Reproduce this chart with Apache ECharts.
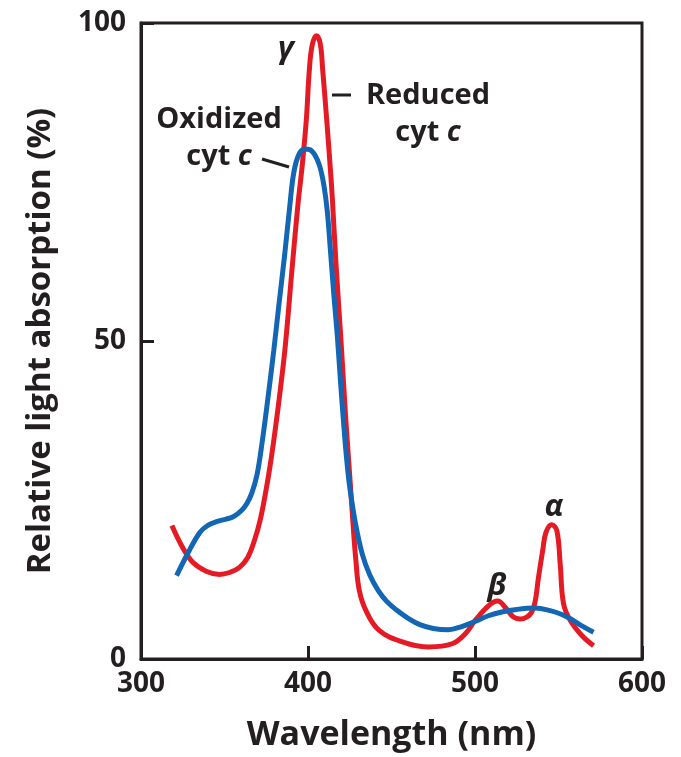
<!DOCTYPE html>
<html>
<head>
<meta charset="utf-8">
<script src="https://cdn.jsdelivr.net/npm/echarts@6/dist/echarts.min.js"></script>
<style>
  html, body { margin: 0; padding: 0; background: #fff; }
  #chart { width: 681px; height: 757px; }
</style>
</head>
<body>
<div id="chart"></div>
<script>
// absorption spectra of cytochrome c
var redWave = [318.5, 325, 331, 339, 347, 353, 359, 364, 368, 371.5, 374.5, 377.5, 380.5, 383.5, 386.5, 390.5, 394, 396.5, 399, 400.8, 402.5, 405, 407.3, 408.8, 411.2, 413.4, 414.6, 416.8, 419.7, 422.7, 425.2, 426.9, 428.7, 430.7, 434.7, 442.6, 456.5, 472.4, 486.3, 494.3, 500.2, 508.2, 513.5, 518.5, 523, 527, 531, 534, 536, 538, 540.5, 542.5, 546, 549, 551, 553, 557, 564, 571];
var redAbs  = [21.0, 17.5, 15.2, 13.8, 13.3, 13.6, 14.4, 16.0, 18.7, 22.0, 26.0, 30.7, 36.3, 42.5, 49.5, 61.5, 71.5, 77.5, 84.8, 92.6, 96.5, 98, 96.8, 92.6, 84.8, 77, 72.3, 62, 50.3, 37.4, 28.0, 21.5, 15.4, 10.8, 7.6, 4.5, 2.7, 1.9, 2.4, 4.0, 6.1, 8.4, 9.1, 8.0, 6.6, 6.3, 6.6, 7.4, 9.0, 12.8, 17.0, 19.9, 21.1, 20.2, 15.0, 8.7, 6.1, 3.7, 2.1];

var blueWave = [321.3, 328.2, 335.2, 340, 345.2, 351, 355.5, 360, 363.5, 366.5, 369.5, 372.5, 376, 379.5, 382.5, 386, 389, 391.5, 394.5, 398, 401, 404, 407, 409.5, 411.5, 413.5, 415.5, 417.7, 419.5, 421.5, 423.3, 425, 428.5, 432.5, 437, 442, 447, 453, 460, 467, 475, 484, 492, 500, 508, 516, 525, 536, 545, 552, 558, 564, 571];
var blueAbs  = [13.1, 16.7, 19.9, 21.0, 21.6, 22.0, 22.4, 23.3, 24.5, 26.2, 29.0, 34.0, 41.0, 48.5, 55.5, 63.5, 71.0, 76.5, 79.3, 80.2, 80.1, 79.3, 77.5, 74.5, 70.5, 64.0, 57.2, 50.3, 43.5, 36.5, 31.0, 27.0, 21.2, 16.5, 13.2, 10.8, 9.1, 7.7, 6.4, 5.4, 4.8, 4.6, 5.1, 5.9, 6.8, 7.4, 7.8, 8.0, 7.6, 7.0, 6.2, 5.2, 4.2];

var xTicks = [300, 400, 500, 600];
var yTicks = [0, 50, 100];

var FONT = '"Open Sans", "Noto Sans", sans-serif';
var INK = '#231f20';
var RED = '#e41b24';
var BLUE = '#1366b3';

function pairs(xs, ys) {
    return xs.map(function (x, i) { return [x, ys[i]]; });
}

var labelRich = {
    b: { fontFamily: FONT, fontWeight: 'bold', fontSize: 29, lineHeight: 37, fill: INK },
    i: { fontFamily: FONT, fontWeight: 'bold', fontStyle: 'italic', fontSize: 29, lineHeight: 37, fill: INK }
};

var chart = echarts.init(document.getElementById('chart'), null, { renderer: 'canvas' });

var option = {
    animation: false,
    backgroundColor: '#fff',
    grid: {
        left: 141, right: 39, top: 23, bottom: 95,
        show: true,
        borderColor: INK,
        borderWidth: 3
    },
    xAxis: {
        type: 'value',
        min: xTicks[0],
        max: xTicks[xTicks.length - 1],
        interval: 100,
        name: 'Wavelength (nm)',
        nameLocation: 'middle',
        nameGap: 59,
        nameTextStyle: { fontFamily: FONT, fontWeight: 'bold', fontSize: 34, color: INK },
        axisLine: { show: true, lineStyle: { color: INK, width: 3 } },
        axisTick: { show: true, inside: true, length: 13, lineStyle: { color: INK, width: 3 } },
        axisLabel: { fontFamily: FONT, fontWeight: 'bold', fontSize: 28, color: INK, margin: 11 },
        splitLine: { show: false }
    },
    yAxis: {
        type: 'value',
        min: yTicks[0],
        max: yTicks[yTicks.length - 1],
        interval: 50,
        name: 'Relative light absorption (%)',
        nameLocation: 'middle',
        nameGap: 84,
        nameTextStyle: { fontFamily: FONT, fontWeight: 'bold', fontSize: 33, color: INK },
        axisLine: { show: true, lineStyle: { color: INK, width: 3 } },
        axisTick: { show: true, inside: true, length: 13, lineStyle: { color: INK, width: 3 } },
        axisLabel: { fontFamily: FONT, fontWeight: 'bold', fontSize: 28, color: INK, margin: 15 },
        splitLine: { show: false }
    },
    series: [
        {
            name: 'Reduced cyt c',
            type: 'line',
            data: pairs(redWave, redAbs),
            smooth: 0.4,
            showSymbol: false,
            lineStyle: { color: RED, width: 5 }
        },
        {
            name: 'Oxidized cyt c',
            type: 'line',
            data: pairs(blueWave, blueAbs),
            smooth: 0.4,
            showSymbol: false,
            lineStyle: { color: BLUE, width: 5 }
        }
    ],
    graphic: [
        {
            type: 'text', x: 219, y: 101,
            style: { text: '{b|Oxidized}\n{b|cyt }{i|c}', align: 'center', verticalAlign: 'top', rich: labelRich }
        },
        {
            type: 'text', x: 428, y: 77,
            style: { text: '{b|Reduced}\n{b|cyt }{i|c}', align: 'center', verticalAlign: 'top', rich: labelRich }
        },
        { type: 'line', shape: { x1: 262, y1: 159, x2: 289, y2: 167 }, style: { stroke: INK, lineWidth: 3 } },
        { type: 'line', shape: { x1: 332, y1: 95, x2: 351, y2: 95 }, style: { stroke: INK, lineWidth: 3 } },
        // peak names
        { type: 'text', x: 286, y: 49, style: { text: 'γ', align: 'center', verticalAlign: 'middle', fontFamily: FONT, fontWeight: 'bold', fontStyle: 'italic', fontSize: 31, fill: INK } },
        { type: 'text', x: 497, y: 586, style: { text: 'β', align: 'center', verticalAlign: 'middle', fontFamily: FONT, fontWeight: 'bold', fontStyle: 'italic', fontSize: 31, fill: INK } },
        { type: 'text', x: 554, y: 507, style: { text: 'α', align: 'center', verticalAlign: 'middle', fontFamily: FONT, fontWeight: 'bold', fontStyle: 'italic', fontSize: 31, fill: INK } }
    ]
};

chart.setOption(option);
</script>
</body>
</html>
